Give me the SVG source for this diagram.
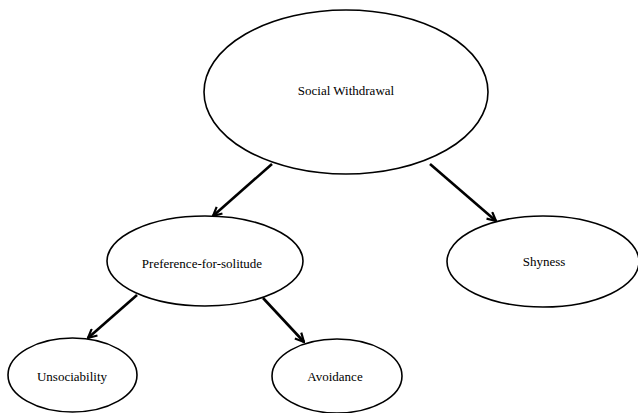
<svg xmlns="http://www.w3.org/2000/svg" width="638" height="413" viewBox="0 0 638 413">
<style>
.node ellipse{fill:#fff;stroke:#000;stroke-width:1.6}
.lbl{font-size:13px;fill:#000;text-anchor:middle;dominant-baseline:central}
.edge{stroke:#000;stroke-width:2.6;fill:none;marker-end:url(#arr)}
</style>
<defs>
<marker id="arr" viewBox="0 0 10 10" refX="9" refY="5" markerWidth="4.2" markerHeight="4.2" orient="auto" markerUnits="strokeWidth">
<path d="M1,1 L9,5 L1,9" fill="none" stroke="#000" stroke-width="2"/>
</marker>
</defs>
<rect width="638" height="413" fill="#fff"/>
<g id="connectors">
<line class="edge" x1="272" y1="164" x2="213" y2="216"/>
<line class="edge" x1="430" y1="164" x2="496" y2="221"/>
<line class="edge" x1="137" y1="295" x2="88" y2="338"/>
<line class="edge" x1="263" y1="298" x2="304" y2="342"/>
</g>
<g font-family="'Liberation Serif', 'Times New Roman', 'DejaVu Serif', serif">
<g id="social-withdrawal" class="node">
<ellipse cx="346" cy="92" rx="142" ry="82"/>
<text class="lbl" x="346" y="90">Social Withdrawal</text>
</g>
<g id="preference-for-solitude" class="node">
<ellipse cx="205" cy="261" rx="98" ry="45"/>
<text class="lbl" x="202" y="263">Preference-for-solitude</text>
</g>
<g id="shyness" class="node">
<ellipse cx="543" cy="261.5" rx="96" ry="45.5"/>
<text class="lbl" x="544" y="261">Shyness</text>
</g>
<g id="unsociability" class="node">
<ellipse cx="72.5" cy="375" rx="64.5" ry="37"/>
<text class="lbl" x="72" y="376">Unsociability</text>
</g>
<g id="avoidance" class="node">
<ellipse cx="337" cy="376" rx="65" ry="37"/>
<text class="lbl" x="335" y="376">Avoidance</text>
</g>
</g>
</svg>
